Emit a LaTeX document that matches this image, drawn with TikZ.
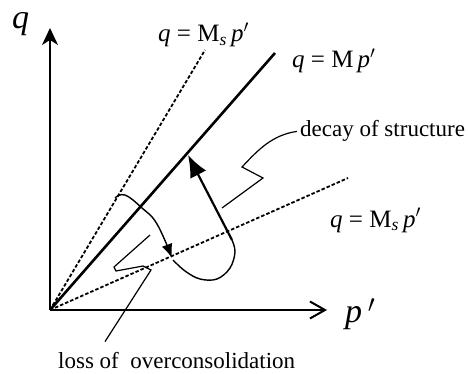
\documentclass[tikz,border=0pt]{standalone}
\usepackage{fontspec}
\setmainfont{Liberation Serif}
\usetikzlibrary{arrows.meta, positioning}

\begin{document}
\begin{tikzpicture}[
  x=1pt, y=-1pt,
  axis/.style={line width=1.8pt},
  csl/.style={line width=2.6pt},
  ssl/.style={line width=1.8pt, dash pattern=on 3.5pt off 2pt},
  track/.style={line width=1.4pt},
  shaft/.style={line width=2.2pt, -{Latex[length=22pt, width=18pt]}},
  leader/.style={line width=1.2pt},
  eqn/.style={font=\fontsize{25}{27}\selectfont, inner sep=0pt, anchor=base west},
  lbl/.style={font=\fontsize{23}{25}\selectfont, inner sep=0pt, anchor=base west},
  axlbl/.style={font=\fontsize{34}{36}\selectfont, inner sep=0pt, anchor=base west}
]

% Frame
\useasboundingbox (0,0) rectangle (468,374);

% Axes
\coordinate (O) at (50,310);
\coordinate (qtip) at (50,28);
\coordinate (ptip) at (327,310);
\draw[axis, -{Stealth[length=17pt, width=16pt, inset=5pt]}] (O) -- (qtip);
\draw[axis, -{Straight Barb[length=15pt, width=17pt, line width=2pt]}] (O) -- (ptip);
\node[axlbl] (qlab) at (12,29) {\textit{q}};
\node[axlbl] (plab) at (345,322) {\textit{p}\,$'$};

% Lines through the origin
\coordinate (msup) at (205,50);
\coordinate (mcsl) at (275,53);
\coordinate (mslo) at (348,178);
\draw[ssl] (O) -- (msup);
\draw[csl] (O) -- (mcsl);
\draw[ssl] (O) -- (mslo);
\node[eqn] (msuplab) at (158,42) {\textit{q} = M\textsubscript{\textit{s}}\,\textit{p}$'$};
\node[eqn] (mcsllab) at (292,68) {\textit{q} = M\,\textit{p}$'$};
\node[eqn] (mslolab) at (330,227) {\textit{q} = M\textsubscript{\textit{s}}\,\textit{p}$'$};

% Loss of overconsolidation
\draw[track, -{Latex[length=14pt, width=11pt]}] plot[smooth, tension=0.7]
  coordinates {(115,198) (125,195) (142,208) (157,224) (172,258)};

% Decay of structure
\draw[track] plot[smooth, tension=0.6]
  coordinates {(173,260) (185,271) (200,279) (217,279) (230,268) (235,252) (232,240)};
\draw[shaft] (232,240) -- (188,155);

% Labels
\node[lbl] (decay) at (300,137) {decay of structure};
\node[lbl] (loss) at (58,368) {loss of\ \ overconsolidation};
\draw[leader] ([xshift=-3pt]decay.west) .. controls (272,135) and (258,150) .. (242,167)
  -- (263,178) -- (222,208);
\draw[leader] ([shift={(47,-10)}]loss.north west) -- (151,270) -- (143,266)
  -- (116,271) -- (114,267) -- (150,235);

\end{tikzpicture}
\end{document}
